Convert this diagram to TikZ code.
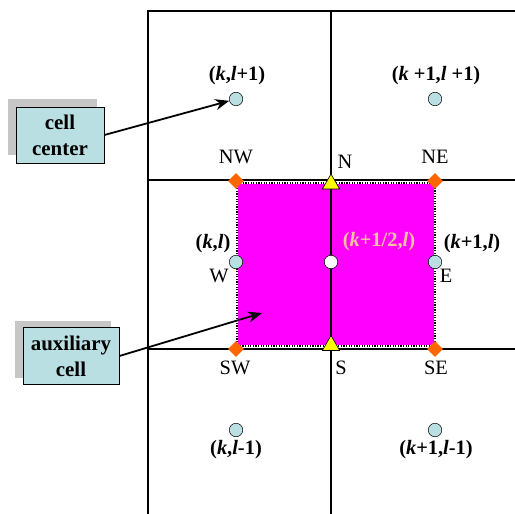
\documentclass[tikz,border=0pt]{standalone}
\usepackage{fontspec}
\setmainfont{Liberation Serif}
\usetikzlibrary{arrows.meta,shapes.geometric}
\definecolor{cellblue}{HTML}{B9DFE2}
\definecolor{auxmag}{HTML}{FF00FF}
\definecolor{vorange}{HTML}{FF6600}
\definecolor{vyellow}{HTML}{FFFF00}
\definecolor{peach}{HTML}{F4C49C}
\tikzset{
  gridline/.style={line width=1.6pt},
  center/.style={circle,draw=black,line width=0.5pt,fill=cellblue,minimum size=13.5bp,inner sep=0pt},
  vertex/.style={diamond,fill=vorange,minimum size=16bp,inner sep=0pt},
  face/.style={regular polygon,regular polygon sides=3,fill=vyellow,draw=black,line width=0.6pt,minimum size=20bp,inner sep=0pt},
  coordlbl/.style={font=\fontsize{20.5}{22}\selectfont\bfseries,inner sep=0pt},
  dirlbl/.style={font=\fontsize{20.5}{22}\selectfont,inner sep=0pt},
  infobox/.style={draw=black,line width=0.8pt,fill=cellblue,font=\fontsize{21}{26}\selectfont\bfseries,align=center,inner sep=0pt},
  shadowbox/.style={fill=gray!45},
  pointer/.style={line width=1.8pt,-{Stealth[length=14bp,width=11bp]}}
}
\begin{document}
\begin{tikzpicture}[x=1bp,y=-1bp]
\useasboundingbox (0,0) rectangle (515,514);
% auxiliary cell
\fill[auxmag] (237,183) rectangle (435,346);
\draw[white,line width=1.2pt] (237,183) rectangle (435,346);
\draw[black,line width=1.2pt,dash pattern=on 1.2pt off 1.4pt] (237,183) rectangle (435,346);
% grid
\draw[gridline] (148,514) -- (148,11) -- (515,11);
\draw[gridline] (148,180) -- (515,180);
\draw[gridline] (148,349) -- (515,349);
\draw[gridline] (331,11) -- (331,514);
% cell centres
\node[center] (c1) at (236,99) {};
\node[center] (c2) at (435,99) {};
\node[center] (c3) at (236,262) {};
\node[center,fill=white] (c4) at (331,262) {};
\node[center] (c5) at (435,262) {};
\node[center] (c6) at (236,430) {};
\node[center] (c7) at (435,430) {};
% vertices
\node[vertex] (vnw) at (236,181) {};
\node[vertex] (vne) at (435,181) {};
\node[vertex] (vsw) at (236,349) {};
\node[vertex] (vse) at (435,349) {};
% faces
\node[face] (fn) at (331,184) {};
\node[face] (fs) at (331,345.5) {};
% coordinate labels
\node[coordlbl] (l1) at (237,76) {(\textit{k},\textit{l}+1)};
\node[coordlbl] (l2) at (436,76) {(\textit{k} +1,\textit{l} +1)};
\node[coordlbl] (l3) at (213,244) {(\textit{k},\textit{l})};
\node[coordlbl,text=peach] (l4) at (379,242) {(\textit{k}+1/2,\textit{l})};
\node[coordlbl] (l5) at (472,244) {(\textit{k}+1,\textit{l})};
\node[coordlbl] (l6) at (236,450) {(\textit{k},\textit{l}-1)};
\node[coordlbl] (l7) at (436,450) {(\textit{k}+1,\textit{l}-1)};
% direction labels
\node[dirlbl] (tnw) at (236,157) {NW};
\node[dirlbl] (tn) at (345,162) {N};
\node[dirlbl] (tne) at (435,157) {NE};
\node[dirlbl] (tw) at (219,276) {W};
\node[dirlbl] (te) at (446,276) {E};
\node[dirlbl] (tsw) at (235,368) {SW};
\node[dirlbl] (ts) at (341,368) {S};
\node[dirlbl] (tse) at (436,368) {SE};
% info boxes
\fill[shadowbox] (8,99) rectangle (97,155);
\node[infobox,minimum width=88bp,minimum height=56bp] (bc) at (60,135) {cell\\center};
\fill[shadowbox] (15,321) rectangle (111,378);
\node[infobox,minimum width=96bp,minimum height=57bp] (ba) at (71,356) {auxiliary\\cell};
\coordinate (auxtip) at (262,313);
\draw[pointer] (bc.east) -- (c1);
\draw[pointer] (ba.east) -- (auxtip);
\end{tikzpicture}
\end{document}
